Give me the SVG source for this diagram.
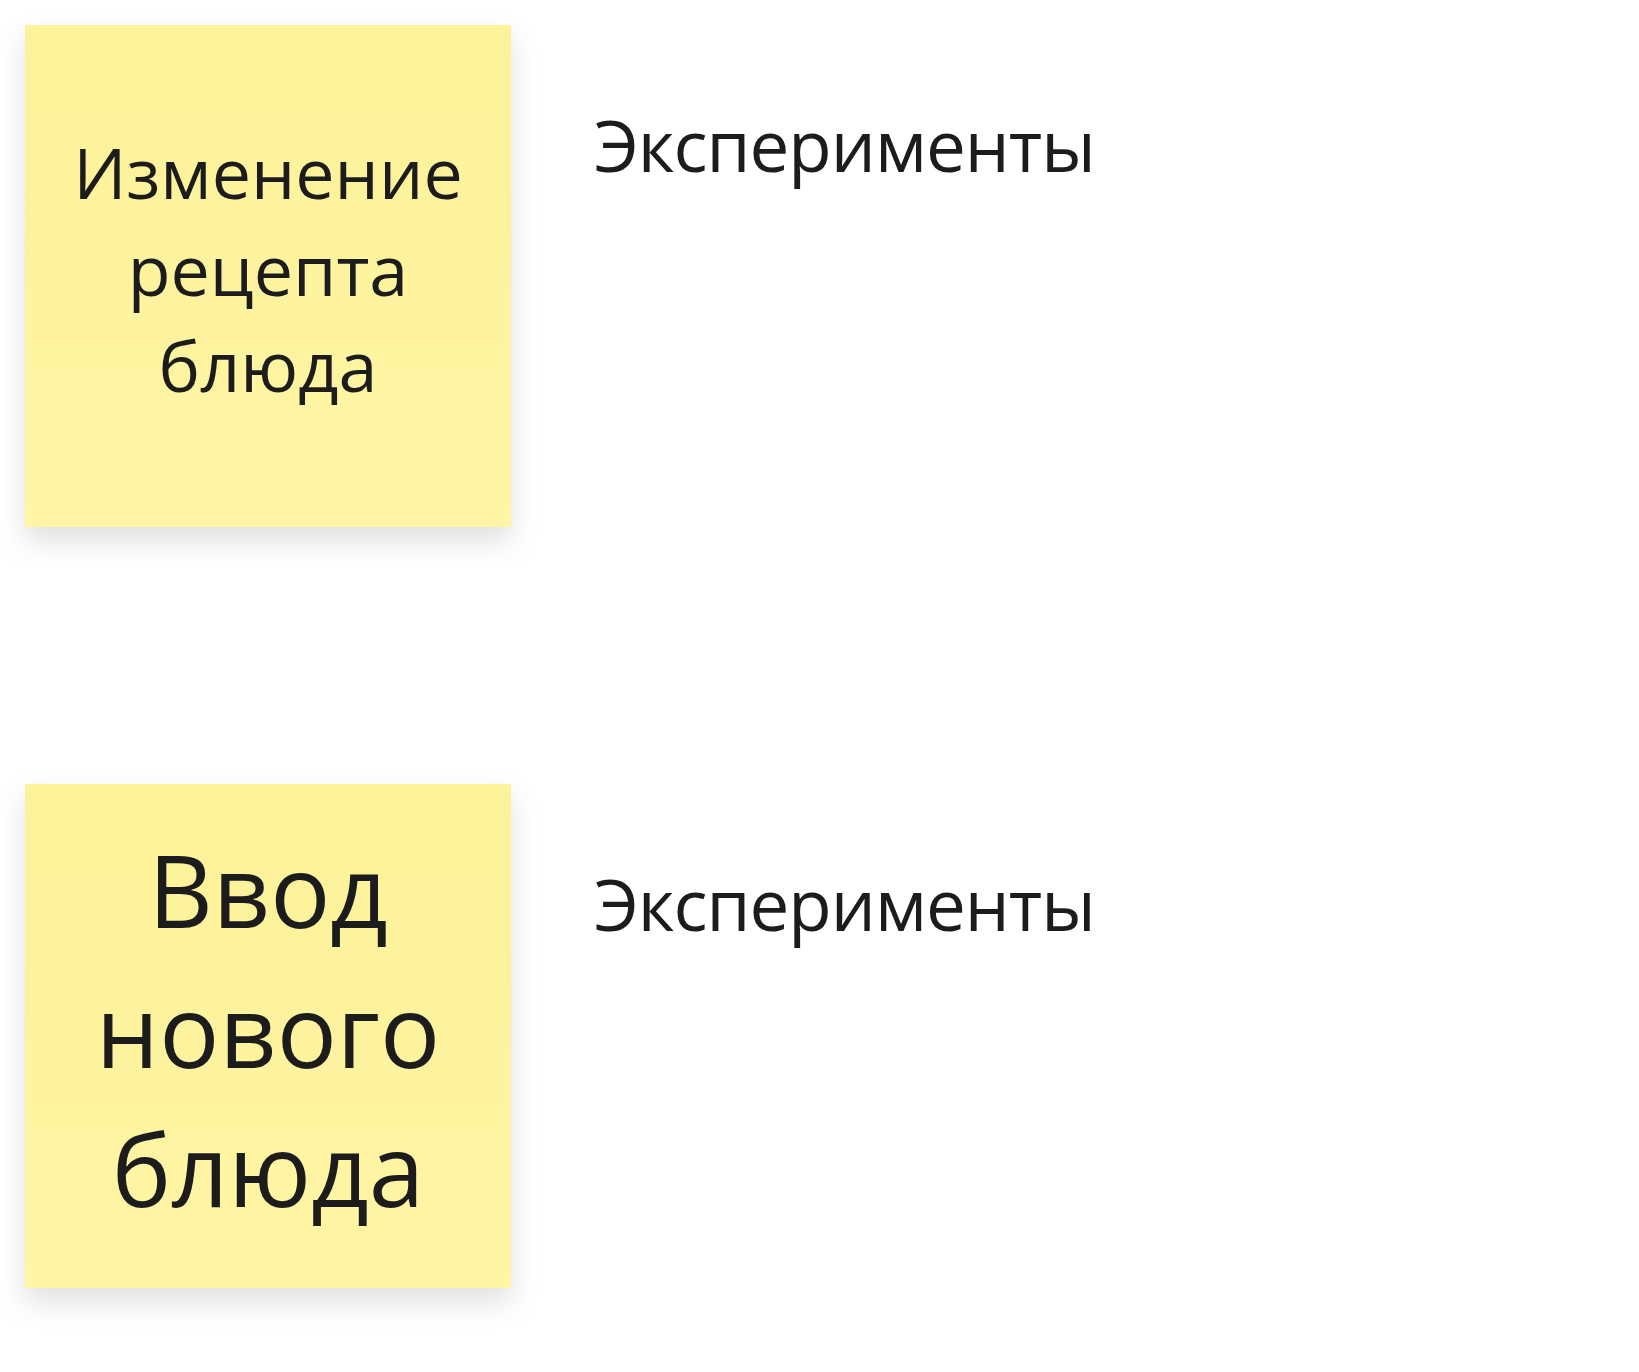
<svg xmlns="http://www.w3.org/2000/svg" width="1639" height="1372" viewBox="0 0 1639 1372">
  <defs>
    <linearGradient id="stickyFill" x1="0" y1="0" x2="0" y2="1">
      <stop offset="0" stop-color="#fcf299"/>
      <stop offset="1" stop-color="#fff5a4"/>
    </linearGradient>
    <filter id="shadow" x="-20%" y="-20%" width="140%" height="150%">
      <feDropShadow dx="0" dy="14" stdDeviation="14" flood-color="#000" flood-opacity="0.12"/>
    </filter>
  </defs>
  <style>
    .sticky { fill: url(#stickyFill); filter: url(#shadow); }
    .t { font-family: "Open Sans", "Noto Sans", "DejaVu Sans", sans-serif; fill: #1c1c1c; }
    .c { text-anchor: middle; }
    .lbl { font-size: 71px; letter-spacing: -1px; }
  </style>
  <rect width="1639" height="1372" fill="#ffffff"/>
  <g id="sticky-change-recipe">
    <rect class="sticky" x="25" y="25" width="486" height="502"/>
    <text class="t c" x="268" y="199" font-size="70">Изменение</text>
    <text class="t c" x="268" y="296" font-size="70">рецепта</text>
    <text class="t c" x="268" y="392" font-size="70">блюда</text>
  </g>
  <g id="label-experiments-1">
    <text class="t lbl" x="594" y="172">Эксперименты</text>
  </g>
  <g id="sticky-new-dish">
    <rect class="sticky" x="25" y="784" width="486" height="504"/>
    <text class="t c" x="268" y="928" font-size="100">Ввод</text>
    <text class="t c" x="268" y="1068" font-size="100">нового</text>
    <text class="t c" x="268" y="1207" font-size="100">блюда</text>
  </g>
  <g id="label-experiments-2">
    <text class="t lbl" x="594" y="931">Эксперименты</text>
  </g>
  <g id="connectors"></g>
</svg>
